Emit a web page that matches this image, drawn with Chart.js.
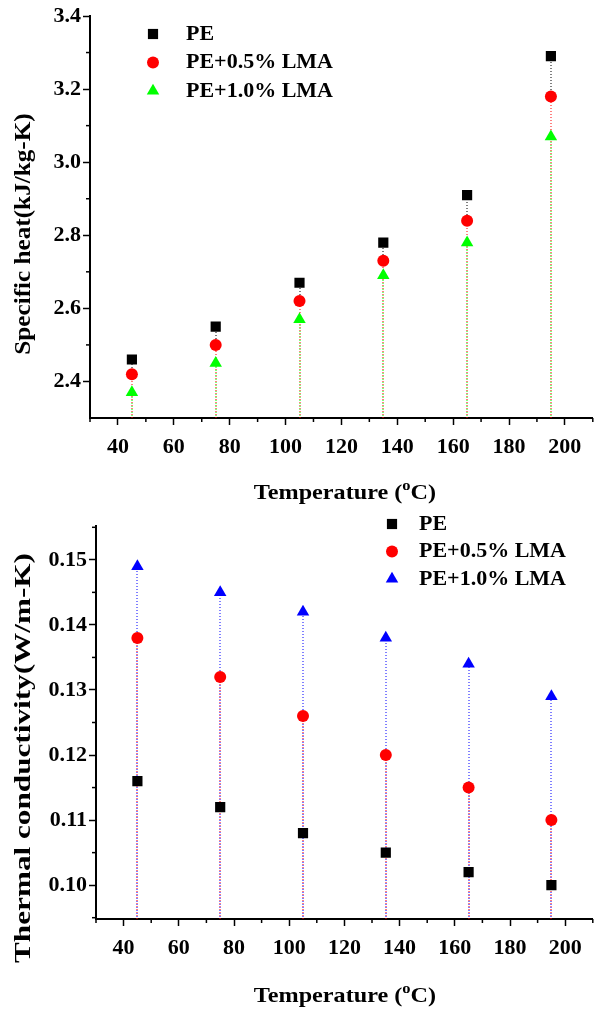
<!DOCTYPE html>
<html>
<head>
<meta charset="utf-8">
<script src="https://cdn.jsdelivr.net/npm/chart.js@4.4.1/dist/chart.umd.min.js"></script>
<style>
  html, body { margin: 0; padding: 0; background: #fff; overflow: hidden; }
  body { width: 594px; height: 1010px; position: relative; }
  .box { position: absolute; left: 0; width: 600px; }
  #top { top: 0; height: 510px; }
  #bottom { top: 510px; height: 500px; }
</style>
</head>
<body>
<div class="box" id="top"><canvas id="heat"></canvas></div>
<div class="box" id="bottom"><canvas id="cond"></canvas></div>
<script>
// data --------------------------------------------------------------------------
const temps = [45, 75, 105, 135, 165, 195];
const names = ["PE", "PE+0.5% LMA", "PE+1.0% LMA"];

const heatPE = [2.46, 2.55, 2.67, 2.78, 2.91, 3.29];
const heat05 = [2.42, 2.50, 2.62, 2.73, 2.84, 3.18];
const heat10 = [2.37, 2.45, 2.57, 2.69, 2.78, 3.07];

const condPE = [0.116, 0.112, 0.108, 0.105, 0.102, 0.100];
const cond05 = [0.138, 0.132, 0.126, 0.120, 0.115, 0.110];
const cond10 = [0.149, 0.145, 0.142, 0.138, 0.134, 0.129];

const xTicks = [40, 60, 80, 100, 120, 140, 160, 180, 200];
const xMinor = [30, 50, 70, 90, 110, 130, 150, 170, 190, 210];
const heatTicks = [2.4, 2.6, 2.8, 3.0, 3.2, 3.4];
const heatMinor = [2.5, 2.7, 2.9, 3.1, 3.3];
const condTicks = [0.10, 0.11, 0.12, 0.13, 0.14, 0.15];
const condMinor = [0.095, 0.105, 0.115, 0.125, 0.135, 0.145, 0.155];
//---------------------------------------------------------------------------------

const FAMILY = "'Liberation Serif', 'Times New Roman', serif";
Chart.defaults.font.family = FAMILY;
Chart.defaults.font.weight = "bold";
Chart.defaults.color = "#000";

const sizes = { rect: 7.2, circle: 6, triangle: 7.2 };
const dashOffsets = [0, 0, 1];

function series(values, label, style, color) {
  return {
    label: label,
    data: temps.map((t, i) => ({ x: t, y: values[i] })),
    pointStyle: style,
    pointRadius: sizes[style],
    pointHoverRadius: sizes[style],
    backgroundColor: color,
    borderColor: color,
    pointBorderWidth: 0,
    showLine: false,
  };
}

function drawRich(ctx, parts, cx, cy, angle, stretch) {
  ctx.save();
  ctx.translate(cx, cy);
  ctx.rotate(angle);
  ctx.scale(stretch, 1);
  let total = 0;
  parts.forEach((p) => {
    ctx.font = "bold " + p.size + "px " + FAMILY;
    p.w = ctx.measureText(p.text).width;
    total += p.w;
  });
  let x = -total / 2;
  ctx.fillStyle = "#000";
  ctx.textBaseline = "alphabetic";
  parts.forEach((p) => {
    ctx.font = "bold " + p.size + "px " + FAMILY;
    ctx.fillText(p.text, x, p.dy);
    x += p.w;
  });
  ctx.restore();
}

// drop lines, minor ticks, legend and axis titles
const extras = {
  id: "extras",
  beforeDatasetsDraw(chart) {
    const ctx = chart.ctx;
    const bottom = Math.round(chart.chartArea.bottom);
    const second = chart.getDatasetMeta(1).data;
    ctx.save();
    ctx.lineWidth = 1;
    ctx.setLineDash([1, 2]);
    chart.data.datasets.forEach((ds, i) => {
      ctx.strokeStyle = ds.borderColor;
      ctx.lineDashOffset = dashOffsets[i];
      chart.getDatasetMeta(i).data.forEach((pt, j) => {
        // the PE line is hidden below the next series, so it stops there
        const end = i === 0 ? Math.round(second[j].y) : bottom;
        if (end <= pt.y) return;
        const x = Math.round(pt.x);
        ctx.beginPath();
        ctx.moveTo(x, end);
        ctx.lineTo(x, Math.round(pt.y));
        ctx.stroke();
      });
    });
    ctx.restore();
  },
  afterDraw(chart, args, o) {
    const ctx = chart.ctx;
    const xs = chart.scales.x, ys = chart.scales.y;
    ctx.save();
    ctx.strokeStyle = "#000";
    ctx.lineWidth = 1.5;
    o.minorX.forEach((v) => {
      const p = xs.getPixelForValue(v);
      ctx.beginPath();
      ctx.moveTo(p, xs.top);
      ctx.lineTo(p, xs.top + 4);
      ctx.stroke();
    });
    o.minorY.forEach((v) => {
      const p = ys.getPixelForValue(v);
      ctx.beginPath();
      ctx.moveTo(ys.right - 4, p);
      ctx.lineTo(ys.right, p);
      ctx.stroke();
    });

    // legend
    chart.data.datasets.forEach((ds, i) => {
      const y = o.legend.y + i * o.legend.step;
      ctx.fillStyle = ds.backgroundColor;
      Chart.helpers.drawPoint(ctx, { pointStyle: ds.pointStyle, radius: sizes[ds.pointStyle], borderWidth: 0, rotation: 0 }, o.legend.x, y);
      ctx.fillStyle = "#000";
      ctx.font = "bold 22px " + FAMILY;
      ctx.textBaseline = "middle";
      ctx.fillText(ds.label, o.legend.textX, y);
    });
    ctx.restore();

    drawRich(ctx, [
      { text: "Temperature (", size: 22, dy: 7 },
      { text: "o", size: 15, dy: -2 },
      { text: "C)", size: 22, dy: 7 },
    ], o.xTitle.x, o.xTitle.y, 0, 1.1);
    drawRich(ctx, [{ text: o.yTitle.text, size: 24, dy: 8 }], o.yTitle.x, o.yTitle.y, -Math.PI / 2, o.yTitle.stretch);
  },
};

function axes(yMin, yMax, yTicks, digits, yWidth, xHeight) {
  return {
    x: {
      type: "linear",
      min: 30,
      max: 210,
      afterBuildTicks: (s) => { s.ticks = xTicks.map((v) => ({ value: v })); },
      afterFit: (s) => { s.height = xHeight; },
      border: { color: "#000", width: 2 },
      grid: { drawOnChartArea: false, tickLength: 7, tickColor: "#000", tickWidth: 1.5 },
      ticks: { font: { size: 22, weight: "bold" }, padding: 9, maxRotation: 0, autoSkip: false },
    },
    y: {
      type: "linear",
      min: yMin,
      max: yMax,
      afterBuildTicks: (s) => { s.ticks = yTicks.map((v) => ({ value: v })); },
      afterFit: (s) => { s.width = yWidth; },
      border: { color: "#000", width: 2 },
      grid: { drawOnChartArea: false, tickLength: 7, tickColor: "#000", tickWidth: 1.5 },
      ticks: { font: { size: 22, weight: "bold" }, padding: 2, autoSkip: false, callback: (v) => Number(v).toFixed(digits) },
    },
  };
}

// Specific heat ------------------------------------------------------------------
new Chart(document.getElementById("heat"), {
  type: "scatter",
  data: {
    datasets: [
      series(heatPE, names[0], "rect", "#000000"),
      series(heat05, names[1], "circle", "#ff0000"),
      series(heat10, names[2], "triangle", "#00ff00"),
    ],
  },
  options: {
    responsive: true,
    maintainAspectRatio: false,
    animation: false,
    layout: { padding: { top: 16, right: 2, left: 0, bottom: 0 } },
    scales: axes(2.3, 3.4, heatTicks, 1, 90, 92),
    plugins: {
      legend: { display: false },
      tooltip: { enabled: false },
      extras: {
        minorX: xMinor,
        minorY: heatMinor,
        legend: { x: 153, y: 34, step: 28.5, textX: 186 },
        xTitle: { x: 345, y: 492 },
        yTitle: { text: "Specific heat(kJ/kg-K)", x: 22, y: 234, stretch: 1.05 },
      },
    },
  },
  plugins: [extras],
});

// Thermal conductivity -----------------------------------------------------------
new Chart(document.getElementById("cond"), {
  type: "scatter",
  data: {
    datasets: [
      series(condPE, names[0], "rect", "#000000"),
      series(cond05, names[1], "circle", "#ff0000"),
      series(cond10, names[2], "triangle", "#0000ff"),
    ],
  },
  options: {
    responsive: true,
    maintainAspectRatio: false,
    animation: false,
    layout: { padding: { top: 16, right: 2, left: 0, bottom: 0 } },
    scales: axes(0.0948, 0.1552, condTicks, 2, 96, 91),
    plugins: {
      legend: { display: false },
      tooltip: { enabled: false },
      extras: {
        minorX: xMinor,
        minorY: condMinor,
        legend: { x: 392, y: 14, step: 27.5, textX: 419 },
        xTitle: { x: 345, y: 485 },
        yTitle: { text: "Thermal conductivity(W/m-K)", x: 22, y: 248, stretch: 1.3 },
      },
    },
  },
  plugins: [extras],
});
</script>
</body>
</html>
